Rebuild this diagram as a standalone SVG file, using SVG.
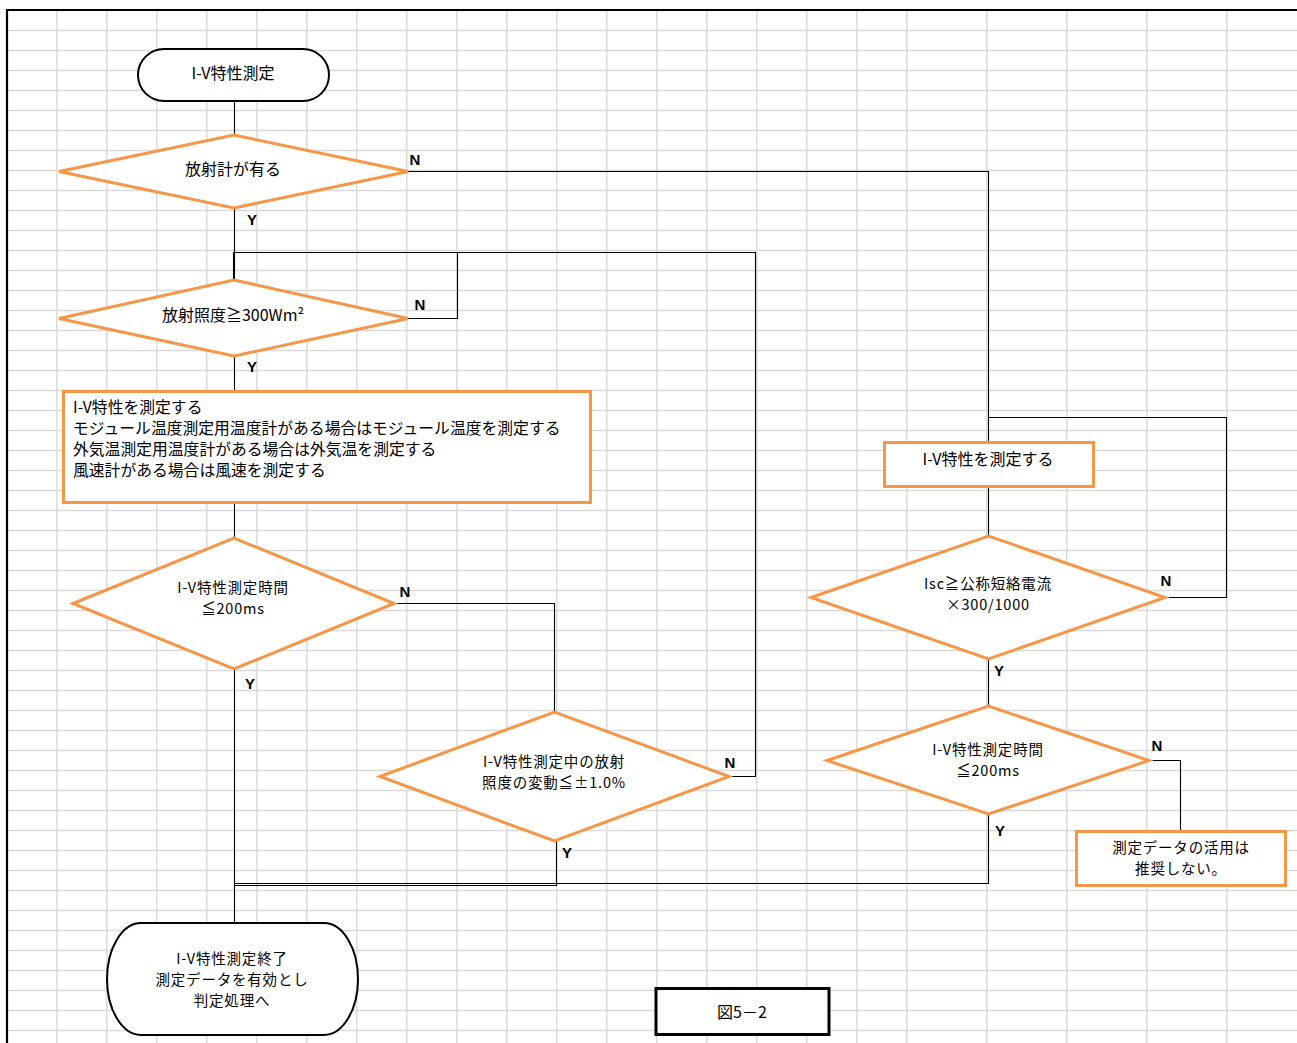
<svg xmlns="http://www.w3.org/2000/svg" width="1297" height="1043" viewBox="0 0 1297 1043">
<style>
.grid{stroke:#D9D9D9;stroke-width:1.4;fill:none}
.frame{stroke:#000;stroke-width:2.2;fill:none}
.dec{fill:#fff;stroke:#F79646;stroke-width:3}
.proc{fill:#fff;stroke:#F79646;stroke-width:3}
.term{fill:#fff;stroke:#000;stroke-width:2}
.cap{fill:#fff;stroke:#000;stroke-width:3}
.con{fill:none;stroke:#000;stroke-width:1.1}
.t{font-family:"Noto Sans CJK JP","Noto Sans",sans-serif;font-size:16px;fill:#000;text-anchor:middle;dominant-baseline:central}
.m{font-size:14.5px;letter-spacing:0.8px}
.tl{font-family:"Noto Sans CJK JP","Noto Sans",sans-serif;font-size:15.8px;fill:#000;dominant-baseline:central}
.lb{font-family:"Liberation Sans",Arial,sans-serif;font-size:15px;font-weight:bold;fill:#000;text-anchor:middle;dominant-baseline:central}
</style>
<rect x="0" y="0" width="1297" height="1043" fill="#fff"/>
<g id="grid">
<path class="grid" d="M7 30.5H1297M7 50.5H1297M7 70.5H1297M7 90.5H1297M7 110.5H1297M7 130.5H1297M7 150.5H1297M7 170.5H1297M7 190.5H1297M7 210.5H1297M7 230.5H1297M7 250.5H1297M7 270.5H1297M7 290.5H1297M7 310.5H1297M7 330.5H1297M7 350.5H1297M7 370.5H1297M7 390.5H1297M7 410.5H1297M7 430.5H1297M7 450.5H1297M7 470.5H1297M7 490.5H1297M7 510.5H1297M7 530.5H1297M7 550.5H1297M7 570.5H1297M7 590.5H1297M7 610.5H1297M7 630.5H1297M7 650.5H1297M7 670.5H1297M7 690.5H1297M7 710.5H1297M7 730.5H1297M7 750.5H1297M7 770.5H1297M7 790.5H1297M7 810.5H1297M7 830.5H1297M7 850.5H1297M7 870.5H1297M7 890.5H1297M7 910.5H1297M7 930.5H1297M7 950.5H1297M7 970.5H1297M7 990.5H1297M7 1010.5H1297M7 1030.5H1297"/>
<path class="grid" d="M56.8 10V1043M106.8 10V1043M156.8 10V1043M206.8 10V1043M256.8 10V1043M306.8 10V1043M356.8 10V1043M406.8 10V1043M456.8 10V1043M506.8 10V1043M556.8 10V1043M606.8 10V1043M656.8 10V1043M706.8 10V1043M756.8 10V1043M806.8 10V1043M856.8 10V1043M906.8 10V1043M986.8 10V1043M1066.8 10V1043M1146.8 10V1043M1226.8 10V1043"/>
<path class="frame" d="M7 1043V10H1297"/>
</g>
<g id="connectors">
<path class="con" d="M234.5 101V135"/>
<path class="con" d="M234.5 208V280"/>
<path class="con" d="M408 171.5H988.5V442"/>
<path class="con" d="M408 318.5H457.5V252.5"/>
<path class="con" d="M729 776.5H755.5V252.5H233.5V280"/>
<path class="con" d="M234.5 356V391"/>
<path class="con" d="M234.5 502V538"/>
<path class="con" d="M394 603.5H554.5V712"/>
<path class="con" d="M234.5 669V923"/>
<path class="con" d="M556.5 841V885.5H234.5"/>
<path class="con" d="M988.5 487V536"/>
<path class="con" d="M1165 597.5H1226.5V417.5H988.5"/>
<path class="con" d="M988.5 659V706"/>
<path class="con" d="M1149 760.5H1180.5V831"/>
<path class="con" d="M988.5 814V883.5H234.5"/>
<text class="lb" x="415" y="159">N</text>
<text class="lb" x="252" y="219">Y</text>
<text class="lb" x="420" y="304">N</text>
<text class="lb" x="252" y="366">Y</text>
<text class="lb" x="405" y="591">N</text>
<text class="lb" x="250" y="683">Y</text>
<text class="lb" x="730" y="762">N</text>
<text class="lb" x="567" y="852">Y</text>
<text class="lb" x="1166" y="580">N</text>
<text class="lb" x="999" y="670">Y</text>
<text class="lb" x="1157" y="745">N</text>
<text class="lb" x="1000" y="830">Y</text>
</g>
<g id="start">
<rect class="term" x="138" y="49" width="191" height="52" rx="26" ry="26"/>
<text class="t" x="233" y="72">I-V特性測定</text>
</g>
<g id="d1">
<polygon class="dec" points="59,171.5 234,135 408,171.5 234,208"/>
<text class="t" x="233" y="168">放射計が有る</text>
</g>
<g id="d2">
<polygon class="dec" points="59,318.5 234,280 408,318.5 234,356"/>
<text class="t" x="233" y="314">放射照度≧300Wm²</text>
</g>
<g id="p1">
<rect class="proc" x="63.5" y="391.5" width="527" height="111"/>
<text class="tl" x="73" y="406.5">I-V特性を測定する</text>
<text class="tl" x="73" y="427.5">モジュール温度測定用温度計がある場合はモジュール温度を測定する</text>
<text class="tl" x="73" y="448.5">外気温測定用温度計がある場合は外気温を測定する</text>
<text class="tl" x="73" y="469.5">風速計がある場合は風速を測定する</text>
</g>
<g id="d3">
<polygon class="dec" points="73,603.5 234,538 394,603.5 234,669"/>
<text class="t m" x="233" y="586">I-V特性測定時間</text>
<text class="t m" x="233" y="607">≦200ms</text>
</g>
<g id="d4">
<polygon class="dec" points="380,776.5 554.5,712 729,776.5 554.5,841"/>
<text class="t m" x="554" y="760">I-V特性測定中の放射</text>
<text class="t m" x="554" y="781">照度の変動≦±1.0%</text>
</g>
<g id="end">
<rect class="term" x="107" y="923" width="251" height="112" rx="34" ry="56"/>
<text class="t m" x="232" y="957">I-V特性測定終了</text>
<text class="t m" x="232" y="978">測定データを有効とし</text>
<text class="t m" x="232" y="999">判定処理へ</text>
</g>
<g id="p2">
<rect class="proc" x="884.5" y="442.5" width="209" height="44"/>
<text class="t" x="988" y="458">I-V特性を測定する</text>
</g>
<g id="d5">
<polygon class="dec" points="811,597.5 988.5,536 1165,597.5 988.5,659"/>
<text class="t m" x="988" y="582">Isc≧公称短絡電流</text>
<text class="t m" x="988" y="603">×300/1000</text>
</g>
<g id="d6">
<polygon class="dec" points="827,760.5 988.5,706 1149,760.5 988.5,814"/>
<text class="t m" x="988" y="748">I-V特性測定時間</text>
<text class="t m" x="988" y="769">≦200ms</text>
</g>
<g id="p3">
<rect class="proc" x="1076.5" y="831.5" width="209" height="54"/>
<text class="t m" x="1181" y="846">測定データの活用は</text>
<text class="t m" x="1181" y="867">推奨しない。</text>
</g>
<g id="caption">
<rect class="cap" x="656" y="988.5" width="173" height="46"/>
<text class="t" x="742" y="1011">図5－2</text>
</g>
</svg>
